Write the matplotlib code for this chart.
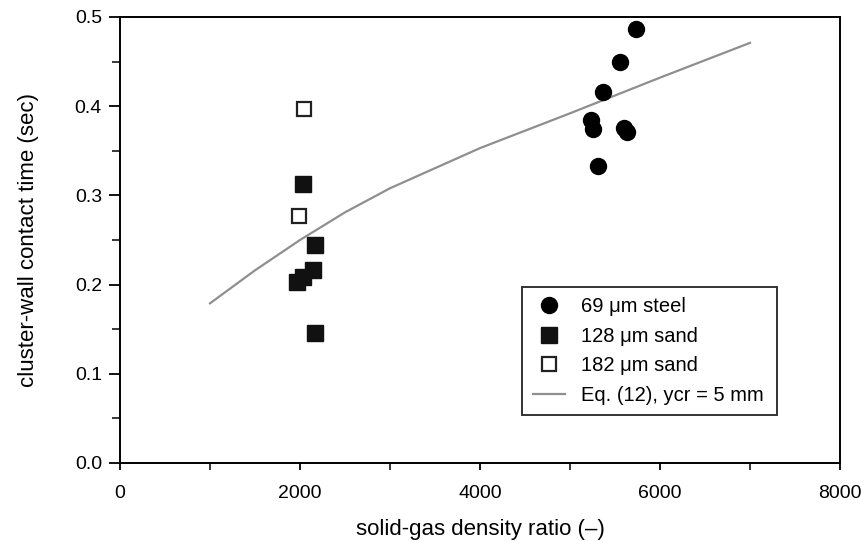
import matplotlib

matplotlib.use("Agg")
import matplotlib.pyplot as plt
from matplotlib.ticker import FormatStrFormatter, MultipleLocator

plt.rcParams["font.family"] = ["Liberation Sans", "DejaVu Sans"]

# 69 um steel
steel_x = [5735, 5560, 5364, 5235, 5261, 5605, 5638, 5309]
steel_y = [0.487, 0.449, 0.416, 0.385, 0.374, 0.375, 0.371, 0.333]

# 128 um sand
sand128_x = [2035, 2164, 2139, 2035, 1961, 2164]
sand128_y = [0.313, 0.244, 0.216, 0.209, 0.203, 0.146]

# 182 um sand
sand182_x = [2042, 1987]
sand182_y = [0.397, 0.277]

# Eq. (12), ycr = 5 mm
eq_x = [1000, 1500, 2000, 2500, 3000, 4000, 5000, 6000, 7000]
eq_y = [0.179, 0.216, 0.250, 0.281, 0.308, 0.353, 0.392, 0.432, 0.471]

fig = plt.figure(figsize=(8.61, 5.41), dpi=100)
ax = fig.add_axes([0.1394, 0.1442, 0.8362, 0.8244])

ax.plot(eq_x, eq_y, color="#8f8f8f", lw=1.6, label="Eq. (12), ycr = 5 mm", zorder=2)
ax.plot(steel_x, steel_y, "o", color="black", ms=11.5, ls="none",
        label="69 \u03bcm steel", zorder=3)
ax.plot(sand128_x, sand128_y, "s", color="#111111", ms=11, ls="none",
        label="128 \u03bcm sand", zorder=3)
ax.plot(sand182_x, sand182_y, "s", mfc="white", mec="#222222", mew=1.6, ms=10,
        ls="none", label="182 \u03bcm sand", zorder=3)

ax.set_xlim(0, 8000)
ax.set_ylim(0, 0.5)
ax.xaxis.set_major_locator(MultipleLocator(2000))
ax.xaxis.set_minor_locator(MultipleLocator(1000))
ax.yaxis.set_major_locator(MultipleLocator(0.1))
ax.yaxis.set_minor_locator(MultipleLocator(0.05))
ax.yaxis.set_major_formatter(FormatStrFormatter("%.1f"))

ax.tick_params(axis="x", which="major", direction="out", length=5, width=1.3,
               labelsize=14, pad=11)
ax.tick_params(axis="x", which="minor", direction="out", length=5, width=1.1)
ax.tick_params(axis="y", which="major", direction="out", length=8, width=1.3,
               labelsize=14, pad=5)
ax.tick_params(axis="y", which="minor", direction="out", length=6, width=1.1)
for s in ax.spines.values():
    s.set_linewidth(1.4)

ax.set_xlabel("solid-gas density ratio (\u2013)", fontsize=16)
ax.set_ylabel("cluster-wall contact time (sec)", fontsize=16)
ax.xaxis.set_label_coords(0.5, -0.125)
ax.yaxis.set_label_coords(-0.113, 0.5)

handles, labels = ax.get_legend_handles_labels()
order = [1, 2, 3, 0]
leg = ax.legend([handles[i] for i in order], [labels[i] for i in order],
                loc="lower left", bbox_to_anchor=(0.559, 0.108, 0.354, 0.3),
                mode="expand", fontsize=14.5, frameon=True, fancybox=False,
                edgecolor="black", borderpad=0.5, labelspacing=0.52,
                handlelength=1.6, handletextpad=0.8, borderaxespad=0)
leg.get_frame().set_linewidth(1.4)

fig.savefig("out.png", dpi=100)
